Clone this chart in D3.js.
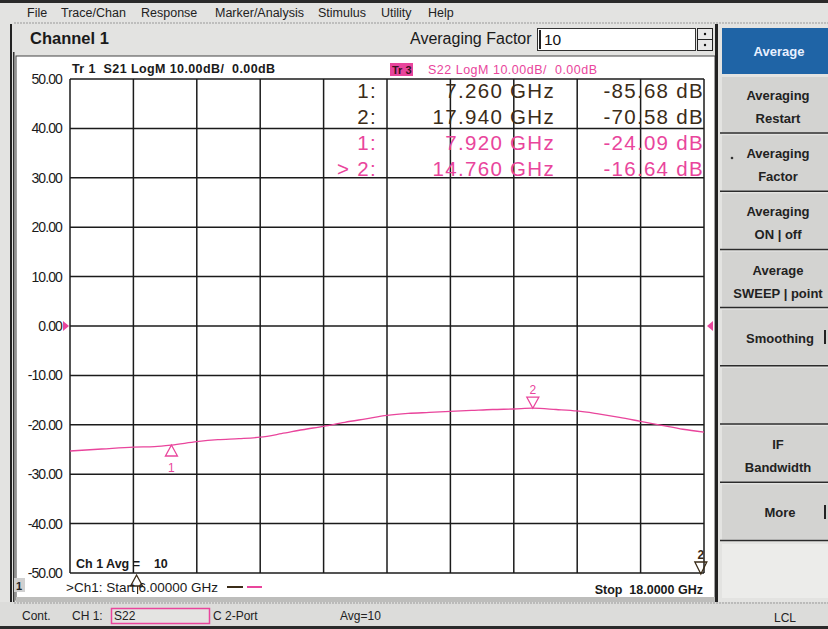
<!DOCTYPE html>
<html><head><meta charset="utf-8">
<script src="https://cdn.jsdelivr.net/npm/d3@7"></script>
<style>
html,body{margin:0;padding:0;background:#e3e3e1;}
svg{display:block;font-family:"Liberation Sans",Arial,sans-serif;}
</style></head>
<body><svg id="c" width="828" height="629"></svg>
<script>
// ---- data ----
const menuItems = ["File","Trace/Chan","Response","Marker/Analysis","Stimulus","Utility","Help"];
const yTicks = [50,40,30,20,10,0,-10,-20,-30,-40,-50];
const freqGHz = [6.0,6.6,7.2,7.6,7.92,8.4,8.8,9.2,9.6,10.0,10.4,10.8,11.2,11.6,12.0,12.4,12.8,13.2,13.6,14.0,14.4,14.76,15.2,15.6,16.0,16.4,16.8,17.2,17.6,18.0];
const s22dB   = [-25.3,-24.9,-24.5,-24.4,-24.1,-23.4,-23.0,-22.8,-22.5,-21.8,-21.0,-20.3,-19.5,-18.8,-18.1,-17.7,-17.5,-17.3,-17.1,-16.9,-16.8,-16.64,-16.9,-17.2,-17.8,-18.5,-19.3,-20.1,-20.9,-21.5];
const s21MarkerFreq = [7.26,17.94];
const s21MarkerVal  = [-85.68,-70.58];
const s22MarkerFreq = [7.92,14.76];
const s22MarkerVal  = [-24.09,-16.64];
const softkeys = [["Averaging","Restart"],["Averaging","Factor"],["Averaging","ON | off"],["Average","SWEEP | point"],["Smoothing"],[],["IF","Bandwidth"],["More"]];

const PINK = "#e9459c", DARK = "#3b2c18", GRID = "#1b1b1b";
const loc = d3.formatLocale({decimal:".",thousands:",",grouping:[3],currency:["",""],minus:"-"});
const f2 = loc.format(".2f"), f3 = loc.format(".3f");
const svg = d3.select("#c");

// ---- frame / menu ----
svg.append("rect").attr("x",0).attr("y",0).attr("width",828).attr("height",629).attr("fill","#e3e3e1");
svg.append("rect").attr("x",0).attr("y",0).attr("width",828).attr("height",3).attr("fill","#2a2a2a");
const menuX = [27,61,141,215,318,381,428];
svg.selectAll("text.menu").data(menuItems).join("text")
  .attr("x",(d,i)=>menuX[i]).attr("y",17).attr("font-size",12.5).attr("fill","#222").text(d=>d);
svg.append("line").attr("x1",14).attr("x2",828).attr("y1",23).attr("y2",23)
  .attr("stroke","#999").attr("stroke-dasharray","2,1");
svg.append("text").attr("x",30).attr("y",44).attr("font-size",16.5).attr("font-weight","bold").attr("fill","#1a1a1a").text("Channel 1");
svg.append("text").attr("x",410).attr("y",44).attr("font-size",16).attr("fill","#1a1a1a").text("Averaging Factor");
svg.append("rect").attr("x",537.5).attr("y",28.5).attr("width",158).attr("height",22).attr("fill","#fff").attr("stroke","#333");
svg.append("line").attr("x1",540).attr("x2",540).attr("y1",30).attr("y2",49).attr("stroke","#222").attr("stroke-width",2);
svg.append("text").attr("x",544).attr("y",45).attr("font-size",15.5).attr("fill","#111").text("10");
svg.append("rect").attr("x",697.5).attr("y",28.5).attr("width",15).attr("height",22).attr("fill","#e8e8e8").attr("stroke","#222");
svg.append("line").attr("x1",697).attr("x2",713).attr("y1",39.5).attr("y2",39.5).attr("stroke","#222");
svg.append("circle").attr("cx",705).attr("cy",34).attr("r",1.2).attr("fill","#111");
svg.append("circle").attr("cx",705).attr("cy",45).attr("r",1.2).attr("fill","#111");

// left dark edges
svg.append("rect").attr("x",10).attr("y",24).attr("width",2).attr("height",578).attr("fill","#222");
svg.append("rect").attr("x",13).attr("y",52).attr("width",1.5).attr("height",550).attr("fill","#333");

// ---- chart panel ----
svg.append("rect").attr("x",16).attr("y",56).attr("width",699).attr("height",544).attr("fill","#fff").attr("stroke","#444");
svg.append("rect").attr("x",16).attr("y",597).attr("width",699).attr("height",5).attr("fill","#bdbdbb");
svg.append("rect").attr("x",715).attr("y",24).attr("width",3).attr("height",578).attr("fill","#222");

const x = d3.scaleLinear().domain([6,18]).range([70,704]);
const y = d3.scaleLinear().domain([-50,50]).range([573,79]);

// grid
const xDivs = d3.range(0,11).map(i=>6+i*1.2);
svg.append("g").selectAll("line").data(xDivs).join("line")
  .attr("x1",d=>x(d)).attr("x2",d=>x(d)).attr("y1",y(50)).attr("y2",y(-50))
  .attr("stroke",GRID).attr("stroke-width",1.5);
svg.append("g").selectAll("line").data(yTicks).join("line")
  .attr("x1",x(6)).attr("x2",x(18)).attr("y1",d=>y(d)).attr("y2",d=>y(d))
  .attr("stroke",GRID).attr("stroke-width",1.5);

// y axis labels
const yAxis = d3.axisLeft(y).tickValues(yTicks).tickFormat(d=>f2(d)).tickSize(0).tickPadding(8);
const ya = svg.append("g").attr("transform",`translate(${x(6)},0)`).call(yAxis);
ya.select(".domain").remove();
ya.selectAll("text").attr("font-size",14).attr("fill","#1a1a1a").attr("font-family","Liberation Sans, Arial, sans-serif").attr("letter-spacing","-0.9");

// header
svg.append("text").attr("x",72).attr("y",73).attr("font-size",12.5).attr("font-weight","bold").attr("fill","#1a1a1a")
  .attr("letter-spacing","0.4").attr("xml:space","preserve").text("Tr 1  S21 LogM 10.00dB/  0.00dB");
svg.append("rect").attr("x",390).attr("y",63).attr("width",23).attr("height",13).attr("fill",PINK);
svg.append("text").attr("x",392).attr("y",74).attr("font-size",11).attr("font-weight","bold").attr("fill","#3a1020").attr("xml:space","preserve").text("Tr 3");
svg.append("text").attr("x",428).attr("y",74).attr("font-size",12.5).attr("fill",PINK).attr("letter-spacing","0.5").attr("xml:space","preserve").text("S22 LogM 10.00dB/  0.00dB");

// reference markers at 0 dB
svg.append("path").attr("d",`M${x(6)-7},${y(0)-5}L${x(6)-1},${y(0)}L${x(6)-7},${y(0)+5}Z`).attr("fill",PINK);
svg.append("path").attr("d",`M${x(18)+9},${y(0)-5}L${x(18)+3},${y(0)}L${x(18)+9},${y(0)+5}Z`).attr("fill",PINK);

// S22 trace
const line = d3.line().x((d,i)=>x(freqGHz[i])).y(d=>y(d)).curve(d3.curveMonotoneX);
svg.append("path").datum(s22dB).attr("d",line).attr("fill","none").attr("stroke",PINK).attr("stroke-width",1.3);

// S22 markers
s22MarkerFreq.forEach((f,i)=>{
  const cx = x(f), cy = y(s22MarkerVal[i]);
  if(i===0){
    svg.append("path").attr("d",`M${cx},${cy}L${cx-6},${cy+11}L${cx+6},${cy+11}Z`).attr("fill","none").attr("stroke",PINK).attr("stroke-width",1.3);
    svg.append("text").attr("x",cx).attr("y",cy+27).attr("text-anchor","middle").attr("font-size",12).attr("fill",PINK).text("1");
  } else {
    svg.append("path").attr("d",`M${cx},${cy}L${cx-6},${cy-11}L${cx+6},${cy-11}Z`).attr("fill","none").attr("stroke",PINK).attr("stroke-width",1.3);
    svg.append("text").attr("x",cx).attr("y",cy-14).attr("text-anchor","middle").attr("font-size",12).attr("fill",PINK).text("2");
  }
});
// S21 markers (off-scale, clamped at bottom)
s21MarkerFreq.forEach((f,i)=>{
  const cx = x(f), cy = y(Math.max(-50,s21MarkerVal[i]));
  if(i===0){
    svg.append("path").attr("d",`M${cx},${cy+2}L${cx-6},${cy+13}L${cx+6},${cy+13}Z`).attr("fill","none").attr("stroke",DARK).attr("stroke-width",1.3);
    svg.append("line").attr("x1",cx+1).attr("x2",cx+1).attr("y1",cy+13).attr("y2",cy+21).attr("stroke",DARK).attr("stroke-width",1.2);
  } else {
    svg.append("path").attr("d",`M${cx},${cy+1}L${cx-6},${cy-11}L${cx+6},${cy-11}Z`).attr("fill","none").attr("stroke",DARK).attr("stroke-width",1.3);
    svg.append("text").attr("x",cx).attr("y",cy-14).attr("text-anchor","middle").attr("font-size",12).attr("font-weight","bold").attr("fill",DARK).text("2");
  }
});

// marker readout
const readout = [
  {n:"1:",f:s21MarkerFreq[0],v:s21MarkerVal[0],c:DARK},
  {n:"2:",f:s21MarkerFreq[1],v:s21MarkerVal[1],c:DARK},
  {n:"1:",f:s22MarkerFreq[0],v:s22MarkerVal[0],c:PINK},
  {n:"> 2:",f:s22MarkerFreq[1],v:s22MarkerVal[1],c:PINK}
];
readout.forEach((r,i)=>{
  const by = 98 + i*26;
  const t = (xx,s)=>svg.append("text").attr("x",xx).attr("y",by).attr("text-anchor","end").attr("font-size",20.5)
      .attr("letter-spacing","1.3").attr("fill",r.c).text(s);
  t(377,r.n);
  t(555,f3(r.f)+" GHz");
  t(704,f2(r.v)+" dB");
});

// bottom labels
svg.append("text").attr("x",76).attr("y",568).attr("font-size",12.5).attr("font-weight","bold").attr("fill","#1a1a1a").attr("xml:space","preserve").text("Ch 1 Avg =    10");
svg.append("rect").attr("x",14).attr("y",578).attr("width",11).attr("height",14).attr("fill","#d0d0d0");
svg.append("text").attr("x",16).attr("y",590).attr("font-size",11).attr("font-weight","bold").attr("fill","#222").text("1");
svg.append("text").attr("x",66).attr("y",592).attr("font-size",13.5).attr("fill","#1a1a1a").text(">Ch1: Start  6.00000 GHz");
svg.append("line").attr("x1",227).attr("x2",243).attr("y1",587).attr("y2",587).attr("stroke",DARK).attr("stroke-width",2);
svg.append("line").attr("x1",247).attr("x2",262).attr("y1",587).attr("y2",587).attr("stroke",PINK).attr("stroke-width",2);
svg.append("text").attr("x",703).attr("y",594).attr("text-anchor","end").attr("font-size",12.5).attr("font-weight","bold").attr("fill","#1a1a1a").attr("xml:space","preserve").text("Stop  18.0000 GHz");

// ---- softkeys ----
svg.append("rect").attr("x",722).attr("y",28).attr("width",106).attr("height",46).attr("fill","#1f64a6");
svg.append("text").attr("x",779).attr("y",56).attr("text-anchor","middle").attr("font-size",13).attr("font-weight","bold").attr("fill","#e8f0ff").text("Average");
softkeys.forEach((k,i)=>{
  const top = 77 + i*58.2;
  svg.append("rect").attr("x",722).attr("y",top).attr("width",106).attr("height",55).attr("fill","#d3d3d1");
  svg.append("line").attr("x1",720).attr("x2",828).attr("y1",top+56).attr("y2",top+56).attr("stroke","#2b2b2b").attr("stroke-width",1.5);
  if(k.length===2){
    svg.append("text").attr("x",778).attr("y",top+23).attr("text-anchor","middle").attr("font-size",13).attr("font-weight","bold").attr("fill","#222").text(k[0]);
    svg.append("text").attr("x",778).attr("y",top+46).attr("text-anchor","middle").attr("font-size",13).attr("font-weight","bold").attr("fill","#222").text(k[1]);
  } else if(k.length===1){
    svg.append("text").attr("x",780).attr("y",top+33).attr("text-anchor","middle").attr("font-size",13).attr("font-weight","bold").attr("fill","#222").text(k[0]);
  }
});
svg.append("circle").attr("cx",732).attr("cy",158).attr("r",1.3).attr("fill","#333");
svg.append("rect").attr("x",824).attr("y",330).attr("width",2).attr("height",14).attr("fill","#222");
svg.append("rect").attr("x",824).attr("y",505).attr("width",2).attr("height",14).attr("fill","#222");
svg.append("rect").attr("x",722).attr("y",544).attr("width",106).attr("height",54).attr("fill","#ececea");

// ---- status bar ----
svg.append("rect").attr("x",0).attr("y",602).attr("width",828).attr("height",27).attr("fill","#dcdcda");
svg.append("line").attr("x1",14).attr("x2",828).attr("y1",603).attr("y2",603).attr("stroke","#999").attr("stroke-dasharray","2,1");
svg.append("rect").attr("x",0).attr("y",626).attr("width",828).attr("height",3).attr("fill","#2a2a2a");
svg.append("text").attr("x",22).attr("y",620).attr("font-size",12).attr("fill","#222").text("Cont.");
svg.append("text").attr("x",72).attr("y",620).attr("font-size",12).attr("fill","#222").text("CH 1:");
svg.append("rect").attr("x",111.5).attr("y",608.5).attr("width",98).attr("height",15).attr("fill","#e4e4e2").attr("stroke",PINK).attr("stroke-width",1.5);
svg.append("text").attr("x",114).attr("y",620).attr("font-size",12).attr("fill","#222").text("S22");
svg.append("text").attr("x",213).attr("y",620).attr("font-size",12).attr("fill","#222").text("C 2-Port");
svg.append("text").attr("x",340).attr("y",620).attr("font-size",12).attr("fill","#222").text("Avg=10");
svg.append("text").attr("x",774).attr("y",622).attr("font-size",12).attr("fill","#222").text("LCL");
</script></body></html>
